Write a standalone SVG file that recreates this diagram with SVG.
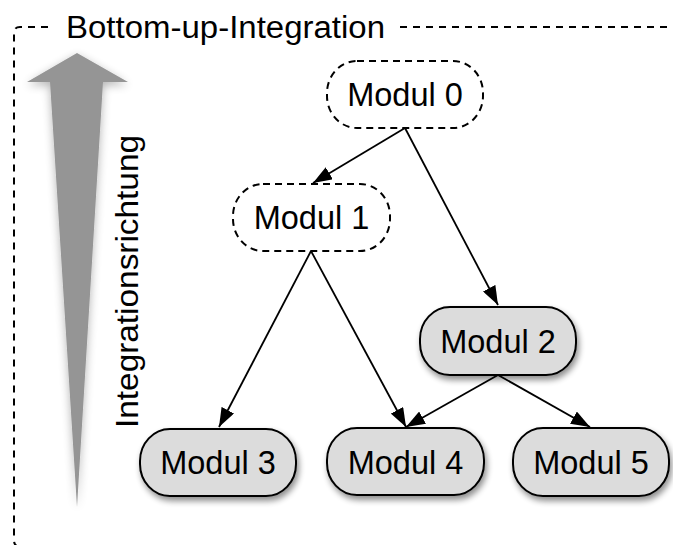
<svg xmlns="http://www.w3.org/2000/svg" width="673" height="545" viewBox="0 0 673 545">
<defs>
<style>
.lbl{font-family:"Liberation Sans",Arial,Helvetica,sans-serif;font-size:32.5px;fill:#000;text-anchor:middle}
.ttl{font-family:"Liberation Sans",Arial,Helvetica,sans-serif;font-size:31px;fill:#000}
.solid{fill:#dcdcdc;stroke:#000;stroke-width:2;filter:url(#sh)}
.dash{fill:#fff;stroke:#000;stroke-width:2;stroke-dasharray:7 5}
.edge{stroke:#000;stroke-width:1.8;fill:none;marker-end:url(#ah)}
.frame{stroke:#000;stroke-width:2;fill:none;stroke-dasharray:7 6}
</style>
<filter id="sh" x="-20%" y="-20%" width="150%" height="160%">
<feGaussianBlur in="SourceAlpha" stdDeviation="3"/>
<feOffset dx="2" dy="4" result="b"/>
<feComponentTransfer><feFuncA type="linear" slope="0.45"/></feComponentTransfer>
<feMerge><feMergeNode/><feMergeNode in="SourceGraphic"/></feMerge>
</filter>
<filter id="ash" x="-50%" y="-10%" width="200%" height="120%">
<feGaussianBlur in="SourceAlpha" stdDeviation="5"/>
<feOffset dx="0" dy="3"/>
<feComponentTransfer><feFuncA type="linear" slope="0.3"/></feComponentTransfer>
<feMerge><feMergeNode/><feMergeNode in="SourceGraphic"/></feMerge>
</filter>
<marker id="ah" viewBox="0 0 19 14" refX="19" refY="7" markerWidth="19" markerHeight="14" markerUnits="userSpaceOnUse" orient="auto">
<path d="M0,0 L19,7 L0,14 z" fill="#000"/>
</marker>
</defs>
<g id="frame">
<path class="frame" d="M48,27 L20,27 Q14,27 14,33 L14,540 Q14,547 21,547 L680,547"/>
<path class="frame" d="M400,27 L680,27"/>
<text class="ttl" x="66" y="38" textLength="319" lengthAdjust="spacingAndGlyphs">Bottom-up-Integration</text>
</g>
<g id="direction">
<path d="M77,53 L128,82 L103,82 L77,507 L50,82 L27,82 Z" fill="#959595" filter="url(#ash)"/>
<text class="ttl" transform="translate(138,428) rotate(-90)" textLength="293" lengthAdjust="spacingAndGlyphs">Integrationsrichtung</text>
</g>
<g id="connectors">
<line class="edge" x1="405" y1="128" x2="313" y2="183"/>
<line class="edge" x1="405" y1="128" x2="498" y2="305"/>
<line class="edge" x1="311" y1="251" x2="219" y2="427"/>
<line class="edge" x1="311" y1="251" x2="406" y2="427"/>
<line class="edge" x1="498" y1="375" x2="406" y2="427"/>
<line class="edge" x1="498" y1="375" x2="590" y2="427"/>
</g>
<g id="modul0">
<rect class="dash" x="327" y="61" width="156" height="67" rx="30" ry="32"/>
<text class="lbl" x="405" y="106">Modul 0</text>
</g>
<g id="modul1">
<rect class="dash" x="233" y="184" width="157" height="67" rx="30" ry="32"/>
<text class="lbl" x="311.5" y="229">Modul 1</text>
</g>
<g id="modul2">
<rect class="solid" x="420" y="307" width="156" height="68" rx="30" ry="32"/>
<text class="lbl" x="498" y="353">Modul 2</text>
</g>
<g id="modul3">
<rect class="solid" x="140" y="429" width="156" height="67" rx="30" ry="32"/>
<text class="lbl" x="218" y="474">Modul 3</text>
</g>
<g id="modul4">
<rect class="solid" x="327" y="428" width="157" height="67" rx="30" ry="32"/>
<text class="lbl" x="405.5" y="474">Modul 4</text>
</g>
<g id="modul5">
<rect class="solid" x="513" y="428" width="156" height="68" rx="30" ry="32"/>
<text class="lbl" x="591" y="474">Modul 5</text>
</g>
</svg>
